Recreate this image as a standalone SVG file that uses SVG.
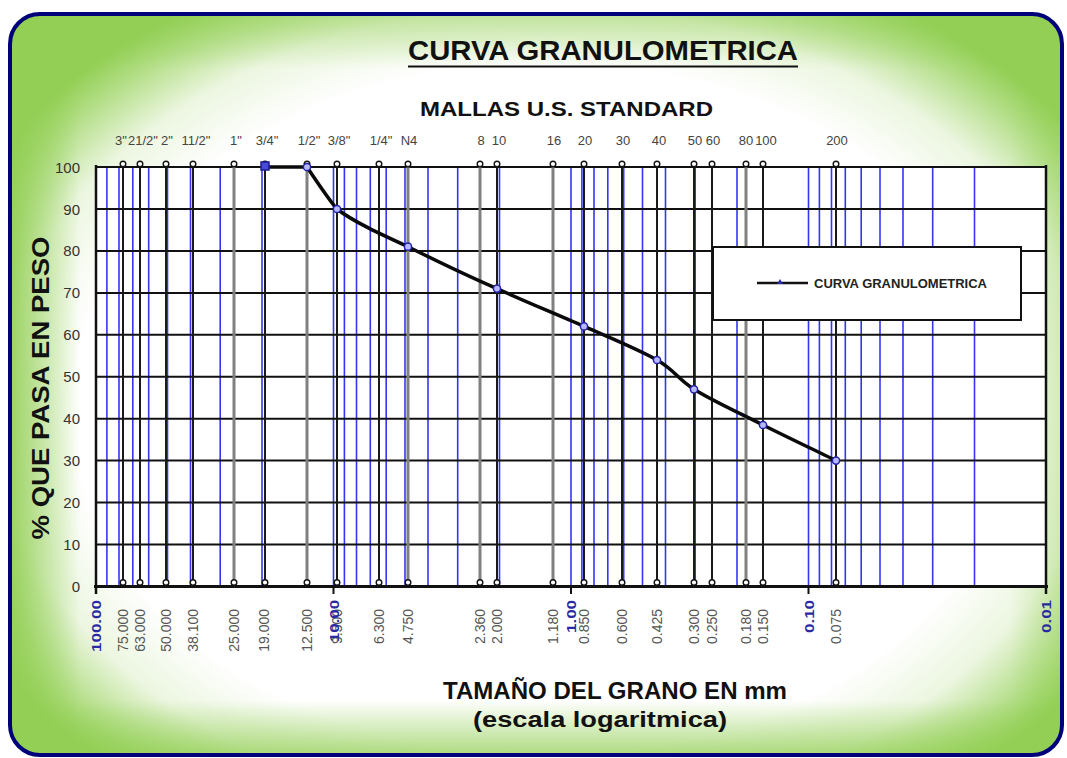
<svg xmlns="http://www.w3.org/2000/svg" width="1067" height="758" viewBox="0 0 1067 758">
<defs>
<radialGradient id="bg" gradientUnits="userSpaceOnUse" cx="545" cy="410" r="480" gradientTransform="translate(545 410) scale(1.36 1) translate(-545 -410)">
<stop offset="0" stop-color="#ffffff"/>
<stop offset="0.72" stop-color="#ffffff"/>
<stop offset="0.84" stop-color="#ecf6e0"/>
<stop offset="0.95" stop-color="#acdb7c"/>
<stop offset="1" stop-color="#92cf54"/>
</radialGradient>
<linearGradient id="gl" x1="0" y1="0" x2="1" y2="0">
<stop offset="0" stop-color="#92cf54" stop-opacity="0.9"/>
<stop offset="1" stop-color="#92cf54" stop-opacity="0"/>
</linearGradient>
<linearGradient id="gr" x1="1" y1="0" x2="0" y2="0">
<stop offset="0" stop-color="#92cf54" stop-opacity="0.35"/>
<stop offset="1" stop-color="#92cf54" stop-opacity="0"/>
</linearGradient>
<linearGradient id="gt" x1="0" y1="0" x2="0" y2="1">
<stop offset="0" stop-color="#92cf54" stop-opacity="0.5"/>
<stop offset="1" stop-color="#92cf54" stop-opacity="0"/>
</linearGradient>
<linearGradient id="gb" x1="0" y1="1" x2="0" y2="0">
<stop offset="0" stop-color="#92cf54" stop-opacity="0.75"/>
<stop offset="1" stop-color="#92cf54" stop-opacity="0"/>
</linearGradient>
<clipPath id="fc"><rect x="10" y="14" width="1052" height="741" rx="30" ry="30"/></clipPath>
</defs>
<style>
text{font-family:"Liberation Sans",Arial,sans-serif}
.blue{stroke:#3535f5;stroke-width:1.6}
.hg{stroke:#111;stroke-width:2}
.sv{stroke:#1a1a1a;stroke-width:2}
.sg{stroke:#808080;stroke-width:3}
.mk{fill:#fff;stroke:#111;stroke-width:1.4}
.dp{fill:#b8b8ff;stroke:#2222a8;stroke-width:1.5}
.tl{font-size:13px;fill:#444;text-anchor:middle}
.bl{font-size:14px;fill:#555;text-anchor:end}
.bb{font-size:13px;font-weight:bold;fill:#2a2aa0;text-anchor:end}
.yl{font-size:15px;fill:#333;text-anchor:end}
</style>
<g id="frame">
<g clip-path="url(#fc)">
<rect x="10" y="14" width="1052" height="741" fill="url(#bg)"/>
<rect x="10" y="14" width="70" height="741" fill="url(#gl)"/>
<rect x="1010" y="14" width="52" height="741" fill="url(#gr)"/>
<rect x="10" y="14" width="1052" height="55" fill="url(#gt)"/>
<rect x="10" y="700" width="1052" height="55" fill="url(#gb)"/>
</g>
<rect x="10" y="14" width="1052" height="741" rx="30" ry="30" fill="none" stroke="#00007a" stroke-width="4"/>
</g>
<g id="titles">
<text x="408" y="60" font-size="28" font-weight="bold" fill="#111" textLength="390" lengthAdjust="spacingAndGlyphs">CURVA GRANULOMETRICA</text>
<line x1="408" y1="66.5" x2="798" y2="66.5" stroke="#111" stroke-width="2"/>
<text x="420" y="116" font-size="21" font-weight="bold" fill="#111" textLength="293" lengthAdjust="spacingAndGlyphs">MALLAS U.S. STANDARD</text>
<text transform="translate(49,388) rotate(-90)" font-size="23" font-weight="bold" fill="#111" text-anchor="middle" textLength="303" lengthAdjust="spacingAndGlyphs">% QUE PASA EN PESO</text>
<text x="443" y="699" font-size="23" font-weight="bold" fill="#111" textLength="344" lengthAdjust="spacingAndGlyphs">TAMAÑO DEL GRANO EN mm</text>
<text x="473" y="727" font-size="22" font-weight="bold" fill="#111" textLength="254" lengthAdjust="spacingAndGlyphs">(escala logaritmica)</text>
</g>
<g id="plot">
<rect x="96" y="167" width="950" height="419.5" fill="#fff"/>
<g id="blue-grid">
<line class="blue" x1="106.9" y1="167" x2="106.9" y2="586.5"/>
<line class="blue" x1="119" y1="167" x2="119" y2="586.5"/>
<line class="blue" x1="132.8" y1="167" x2="132.8" y2="586.5"/>
<line class="blue" x1="148.7" y1="167" x2="148.7" y2="586.5"/>
<line class="blue" x1="167.5" y1="167" x2="167.5" y2="586.5"/>
<line class="blue" x1="190.5" y1="167" x2="190.5" y2="586.5"/>
<line class="blue" x1="220.2" y1="167" x2="220.2" y2="586.5"/>
<line class="blue" x1="262" y1="167" x2="262" y2="586.5"/>
<line class="blue" x1="333.5" y1="167" x2="333.5" y2="586.5"/>
<line class="blue" x1="344.4" y1="167" x2="344.4" y2="586.5"/>
<line class="blue" x1="356.5" y1="167" x2="356.5" y2="586.5"/>
<line class="blue" x1="370.3" y1="167" x2="370.3" y2="586.5"/>
<line class="blue" x1="386.2" y1="167" x2="386.2" y2="586.5"/>
<line class="blue" x1="405" y1="167" x2="405" y2="586.5"/>
<line class="blue" x1="428" y1="167" x2="428" y2="586.5"/>
<line class="blue" x1="457.7" y1="167" x2="457.7" y2="586.5"/>
<line class="blue" x1="499.5" y1="167" x2="499.5" y2="586.5"/>
<line class="blue" x1="571" y1="167" x2="571" y2="586.5"/>
<line class="blue" x1="581.9" y1="167" x2="581.9" y2="586.5"/>
<line class="blue" x1="594" y1="167" x2="594" y2="586.5"/>
<line class="blue" x1="607.8" y1="167" x2="607.8" y2="586.5"/>
<line class="blue" x1="623.7" y1="167" x2="623.7" y2="586.5"/>
<line class="blue" x1="642.5" y1="167" x2="642.5" y2="586.5"/>
<line class="blue" x1="665.5" y1="167" x2="665.5" y2="586.5"/>
<line class="blue" x1="695.2" y1="167" x2="695.2" y2="586.5"/>
<line class="blue" x1="737" y1="167" x2="737" y2="586.5"/>
<line class="blue" x1="808.5" y1="167" x2="808.5" y2="586.5"/>
<line class="blue" x1="819.4" y1="167" x2="819.4" y2="586.5"/>
<line class="blue" x1="831.5" y1="167" x2="831.5" y2="586.5"/>
<line class="blue" x1="845.3" y1="167" x2="845.3" y2="586.5"/>
<line class="blue" x1="861.2" y1="167" x2="861.2" y2="586.5"/>
<line class="blue" x1="880" y1="167" x2="880" y2="586.5"/>
<line class="blue" x1="903" y1="167" x2="903" y2="586.5"/>
<line class="blue" x1="932.7" y1="167" x2="932.7" y2="586.5"/>
<line class="blue" x1="974.5" y1="167" x2="974.5" y2="586.5"/>
</g>
<g id="h-grid">
<line class="hg" x1="96" y1="167" x2="1046" y2="167"/>
<line class="hg" x1="96" y1="209" x2="1046" y2="209"/>
<line class="hg" x1="96" y1="250.9" x2="1046" y2="250.9"/>
<line class="hg" x1="96" y1="292.9" x2="1046" y2="292.9"/>
<line class="hg" x1="96" y1="334.8" x2="1046" y2="334.8"/>
<line class="hg" x1="96" y1="376.7" x2="1046" y2="376.7"/>
<line class="hg" x1="96" y1="418.7" x2="1046" y2="418.7"/>
<line class="hg" x1="96" y1="460.6" x2="1046" y2="460.6"/>
<line class="hg" x1="96" y1="502.6" x2="1046" y2="502.6"/>
<line class="hg" x1="96" y1="544.5" x2="1046" y2="544.5"/>
</g>
<g id="sieves">
<line class="sv" x1="123" y1="167" x2="123" y2="586"/>
<line class="sv" x1="140" y1="167" x2="140" y2="586"/>
<line class="sv" x1="166" y1="167" x2="166" y2="586"/>
<line class="sv" x1="193" y1="167" x2="193" y2="586"/>
<line class="sg" x1="234" y1="167" x2="234" y2="586"/>
<line class="sv" x1="265" y1="167" x2="265" y2="586"/>
<line class="sg" x1="307" y1="167" x2="307" y2="586"/>
<line class="sv" x1="337" y1="167" x2="337" y2="586"/>
<line class="sv" x1="379" y1="167" x2="379" y2="586"/>
<line class="sg" x1="408" y1="167" x2="408" y2="586"/>
<line class="sg" x1="480" y1="167" x2="480" y2="586"/>
<line class="sv" x1="497" y1="167" x2="497" y2="586"/>
<line class="sg" x1="553" y1="167" x2="553" y2="586"/>
<line class="sv" x1="584" y1="167" x2="584" y2="586"/>
<line class="sv" x1="622" y1="167" x2="622" y2="586"/>
<line class="sv" x1="657" y1="167" x2="657" y2="586"/>
<line class="sv" x1="694" y1="167" x2="694" y2="586"/>
<line class="sv" x1="712" y1="167" x2="712" y2="586"/>
<line class="sg" x1="746" y1="167" x2="746" y2="586"/>
<line class="sv" x1="763" y1="167" x2="763" y2="586"/>
<line class="sv" x1="836" y1="167" x2="836" y2="586"/>
</g>
<g id="sieve-markers">
<circle class="mk" cx="123" cy="164" r="2.8"/><circle class="mk" cx="123" cy="582.5" r="2.8"/>
<circle class="mk" cx="140" cy="164" r="2.8"/><circle class="mk" cx="140" cy="582.5" r="2.8"/>
<circle class="mk" cx="166" cy="164" r="2.8"/><circle class="mk" cx="166" cy="582.5" r="2.8"/>
<circle class="mk" cx="193" cy="164" r="2.8"/><circle class="mk" cx="193" cy="582.5" r="2.8"/>
<circle class="mk" cx="234" cy="164" r="2.8"/><circle class="mk" cx="234" cy="582.5" r="2.8"/>
<circle class="mk" cx="265" cy="164" r="2.8"/><circle class="mk" cx="265" cy="582.5" r="2.8"/>
<circle class="mk" cx="307" cy="164" r="2.8"/><circle class="mk" cx="307" cy="582.5" r="2.8"/>
<circle class="mk" cx="337" cy="164" r="2.8"/><circle class="mk" cx="337" cy="582.5" r="2.8"/>
<circle class="mk" cx="379" cy="164" r="2.8"/><circle class="mk" cx="379" cy="582.5" r="2.8"/>
<circle class="mk" cx="408" cy="164" r="2.8"/><circle class="mk" cx="408" cy="582.5" r="2.8"/>
<circle class="mk" cx="480" cy="164" r="2.8"/><circle class="mk" cx="480" cy="582.5" r="2.8"/>
<circle class="mk" cx="497" cy="164" r="2.8"/><circle class="mk" cx="497" cy="582.5" r="2.8"/>
<circle class="mk" cx="553" cy="164" r="2.8"/><circle class="mk" cx="553" cy="582.5" r="2.8"/>
<circle class="mk" cx="584" cy="164" r="2.8"/><circle class="mk" cx="584" cy="582.5" r="2.8"/>
<circle class="mk" cx="622" cy="164" r="2.8"/><circle class="mk" cx="622" cy="582.5" r="2.8"/>
<circle class="mk" cx="657" cy="164" r="2.8"/><circle class="mk" cx="657" cy="582.5" r="2.8"/>
<circle class="mk" cx="694" cy="164" r="2.8"/><circle class="mk" cx="694" cy="582.5" r="2.8"/>
<circle class="mk" cx="712" cy="164" r="2.8"/><circle class="mk" cx="712" cy="582.5" r="2.8"/>
<circle class="mk" cx="746" cy="164" r="2.8"/><circle class="mk" cx="746" cy="582.5" r="2.8"/>
<circle class="mk" cx="763" cy="164" r="2.8"/><circle class="mk" cx="763" cy="582.5" r="2.8"/>
<circle class="mk" cx="836" cy="164" r="2.8"/><circle class="mk" cx="836" cy="582.5" r="2.8"/>
</g>
<g id="axes" stroke="#111" fill="none">
<line x1="96" y1="165" x2="96" y2="594" stroke-width="2.5"/>
<line x1="1046" y1="165" x2="1046" y2="594" stroke-width="2.5"/>
<line x1="94" y1="586.5" x2="1048" y2="586.5" stroke-width="3"/>
<line x1="333.5" y1="586" x2="333.5" y2="594" stroke-width="2"/>
<line x1="571" y1="586" x2="571" y2="594" stroke-width="2"/>
<line x1="808.5" y1="586" x2="808.5" y2="594" stroke-width="2"/>
</g>
<g id="curve">
<path d="M265,167 L307,167 C315,179 329,200 337,209 C353.8,222 381.3,234.5 408,246.7 C434.7,260 467.7,276 497,288.6 C526.3,302 557.3,314.5 584,326.4 C610.7,338 638.7,349.5 657,360 C675.3,370.5 676.3,378 694,389.3 C711.7,400.5 739.3,413 763,425 C786.7,437 823.8,454.5 836,460.6" fill="none" stroke="#0a0a0a" stroke-width="3.5" stroke-linejoin="round"/>
<rect x="261" y="162" width="8" height="8" fill="#4a4ad8" stroke="#1c1c90" stroke-width="1.5"/>
<circle class="dp" cx="307" cy="167" r="3.6"/>
<circle class="dp" cx="337" cy="209" r="3.6"/>
<circle class="dp" cx="408" cy="246.7" r="3.6"/>
<circle class="dp" cx="497" cy="288.6" r="3.6"/>
<circle class="dp" cx="584" cy="326.4" r="3.6"/>
<circle class="dp" cx="657" cy="360" r="3.6"/>
<circle class="dp" cx="694" cy="389.3" r="3.6"/>
<circle class="dp" cx="763" cy="425" r="3.6"/>
<circle class="dp" cx="836" cy="460.6" r="3.6"/>
</g>
</g>
<g id="legend">
<rect x="713" y="247" width="308" height="73" fill="#fff" stroke="#111" stroke-width="2"/>
<line x1="757" y1="283" x2="808" y2="283" stroke="#111" stroke-width="2.5"/>
<path d="M780,279 L783,284 L777,284 Z" fill="#2a2ab0"/>
<text x="814" y="287.5" font-size="12" font-weight="bold" fill="#222" textLength="173" lengthAdjust="spacingAndGlyphs">CURVA GRANULOMETRICA</text>
</g>
<g id="y-labels">
<text class="yl" x="80" y="172.5">100</text>
<text class="yl" x="80" y="214.5">90</text>
<text class="yl" x="80" y="256.4">80</text>
<text class="yl" x="80" y="298.4">70</text>
<text class="yl" x="80" y="340.3">60</text>
<text class="yl" x="80" y="382.2">50</text>
<text class="yl" x="80" y="424.2">40</text>
<text class="yl" x="80" y="466.1">30</text>
<text class="yl" x="80" y="508.1">20</text>
<text class="yl" x="80" y="550">10</text>
<text class="yl" x="80" y="592">0</text>
</g>
<g id="top-labels">
<text class="tl" x="121" y="145">3"</text>
<text class="tl" x="143" y="145">21/2"</text>
<text class="tl" x="167" y="145">2"</text>
<text class="tl" x="196" y="145">11/2"</text>
<text class="tl" x="236" y="145">1"</text>
<text class="tl" x="267" y="145">3/4"</text>
<text class="tl" x="309" y="145">1/2"</text>
<text class="tl" x="339" y="145">3/8"</text>
<text class="tl" x="381" y="145">1/4"</text>
<text class="tl" x="409" y="145">N4</text>
<text class="tl" x="481" y="145">8</text>
<text class="tl" x="499" y="145">10</text>
<text class="tl" x="554" y="145">16</text>
<text class="tl" x="585" y="145">20</text>
<text class="tl" x="623" y="145">30</text>
<text class="tl" x="659" y="145">40</text>
<text class="tl" x="695" y="145">50</text>
<text class="tl" x="713" y="145">60</text>
<text class="tl" x="746" y="145">80</text>
<text class="tl" x="766" y="145">100</text>
<text class="tl" x="837" y="145">200</text>
</g>
<g id="bottom-labels">
<text class="bl" transform="translate(128,609) rotate(-90)">75.000</text>
<text class="bl" transform="translate(145,609) rotate(-90)">63.000</text>
<text class="bl" transform="translate(171,609) rotate(-90)">50.000</text>
<text class="bl" transform="translate(198,609) rotate(-90)">38.100</text>
<text class="bl" transform="translate(239,609) rotate(-90)">25.000</text>
<text class="bl" transform="translate(269,609) rotate(-90)">19.000</text>
<text class="bl" transform="translate(312,609) rotate(-90)">12.500</text>
<text class="bl" transform="translate(342,609) rotate(-90)">9.500</text>
<text class="bl" transform="translate(384,609) rotate(-90)">6.300</text>
<text class="bl" transform="translate(413,609) rotate(-90)">4.750</text>
<text class="bl" transform="translate(485,609) rotate(-90)">2.360</text>
<text class="bl" transform="translate(502,609) rotate(-90)">2.000</text>
<text class="bl" transform="translate(558,609) rotate(-90)">1.180</text>
<text class="bl" transform="translate(589,609) rotate(-90)">0.850</text>
<text class="bl" transform="translate(627,609) rotate(-90)">0.600</text>
<text class="bl" transform="translate(662,609) rotate(-90)">0.425</text>
<text class="bl" transform="translate(699,609) rotate(-90)">0.300</text>
<text class="bl" transform="translate(717,609) rotate(-90)">0.250</text>
<text class="bl" transform="translate(751,609) rotate(-90)">0.180</text>
<text class="bl" transform="translate(768,609) rotate(-90)">0.150</text>
<text class="bl" transform="translate(841,609) rotate(-90)">0.075</text>
<text class="bb" transform="translate(101,600) rotate(-90)" textLength="52" lengthAdjust="spacingAndGlyphs">100.00</text>
<text class="bb" transform="translate(338.5,600) rotate(-90)" textLength="42" lengthAdjust="spacingAndGlyphs">10.00</text>
<text class="bb" transform="translate(576,600) rotate(-90)" textLength="33" lengthAdjust="spacingAndGlyphs">1.00</text>
<text class="bb" transform="translate(813.5,600) rotate(-90)" textLength="33" lengthAdjust="spacingAndGlyphs">0.10</text>
<text class="bb" transform="translate(1051,600) rotate(-90)" textLength="33" lengthAdjust="spacingAndGlyphs">0.01</text>
</g>
</svg>
